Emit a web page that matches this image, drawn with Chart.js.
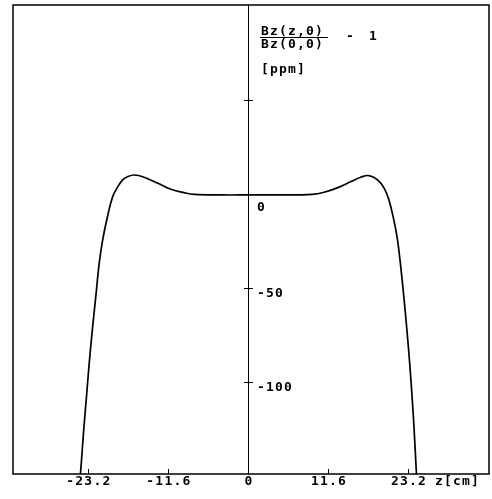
<!DOCTYPE html>
<html lang="en">
<head>
<meta charset="UTF-8">
<title>Bz(z,0)/Bz(0,0) - 1</title>
<style>
  body { margin: 0; background: #fff; }
  #fieldChart { display: block; }
</style>
</head>
<body>
<canvas id="fieldChart" width="492" height="499"></canvas>
<script src="https://cdn.jsdelivr.net/npm/chart.js"></script>
<script>
// z position [cm] and field deviation [ppm]
const zValues = [-24.5, -24.3, -23.95, -23.55, -23.15, -22.7, -22.2, -21.7, -21.2, -20.5,
                 -19.75, -19.0, -18.3, -17.6, -16.6, -15.2, -13.2, -11.3, -9.4, -7.9,
                 -4, 0, 4, 9.2, 10.9, 12.9, 14.8, 16.2, 17.4, 18.65,
                 19.6, 20.3, 21.0, 21.5, 21.95, 22.45, 22.9, 23.3, 23.65, 23.95, 24.2, 24.35];
const fieldPpm = [-152, -142.6, -125, -107.3, -89.4, -71.8, -54.1, -36.3, -23.9, -11.5,
                  -0.9, 4.4, 8, 9.7, 10.6, 9.4, 6.2, 3.0, 1.2, 0.3,
                  0, 0, 0, 0.3, 1.4, 3.9, 7.1, 9.4, 10.3, 8,
                  3.6, -2.7, -13.3, -23, -36.3, -54.1, -71.8, -89.4, -107.3, -125, -142.6, -152];

const zTicks = [-23.2, -11.6, 0, 11.6, 23.2];
const zTickLabels = ['-23.2', '-11.6', '0', '11.6', '23.2'];
const ppmTicks = [50, 0, -50, -100];
const ppmTickLabels = ['', '0', '-50', '-100'];

const FONT = 'bold 13px "DejaVu Sans Mono", monospace';
const tickFont = { family: '"DejaVu Sans Mono", monospace', size: 13, weight: 'bold' };

// frame, labels next to the centre axis, and the axis titles
const plotterText = {
    id: 'plotterText',
    beforeDraw(chart) {
        chart.ctx.letterSpacing = '1.2px';
    },
    afterDraw(chart) {
        const { ctx, chartArea: a, scales: { x, y } } = chart;
        const x0 = x.getPixelForValue(0);
        ctx.save();
        ctx.strokeStyle = '#000';
        ctx.lineWidth = 1.5;
        ctx.strokeRect(a.left, a.top, a.right - a.left, a.bottom - a.top);

        ctx.font = FONT;
        ctx.fillStyle = '#000';
        ctx.textBaseline = 'middle';
        ctx.textAlign = 'left';
        ppmTicks.forEach((v, i) => {
            const off = v === 0 ? 13 : 5;
            ctx.fillText(ppmTickLabels[i], x0 + 8, y.getPixelForValue(v) + off);
        });

        ctx.fillText('Bz(z,0)', x0 + 12, a.top + 27);
        ctx.fillText('Bz(0,0)', x0 + 12, a.top + 40);
        ctx.fillText('-', x0 + 97, a.top + 32);
        ctx.fillText('1', x0 + 120, a.top + 32);
        ctx.fillText('[ppm]', x0 + 12, a.top + 65);
        ctx.lineWidth = 1;
        ctx.beginPath();
        ctx.moveTo(x0 + 11, a.top + 32.5);
        ctx.lineTo(x0 + 79, a.top + 32.5);
        ctx.stroke();

        ctx.fillText('z[cm]', 435, a.bottom + 8);
        ctx.restore();
    }
};

const centreAxis = (tickLength, showBorder) => ({
    type: 'linear',
    position: { x: 0 },
    min: -148.4,
    max: 101,
    afterBuildTicks: s => { s.ticks = ppmTicks.map(v => ({ value: v })); },
    ticks: { display: false },
    border: { display: showBorder, color: '#000', width: 1 },
    grid: { drawOnChartArea: false, drawTicks: true, tickLength: tickLength, color: '#000', lineWidth: 1 }
});

new Chart(document.getElementById('fieldChart'), {
    type: 'line',
    data: {
        datasets: [{
            data: zValues.map((z, i) => ({ x: z, y: fieldPpm[i] })),
            borderColor: '#000',
            borderWidth: 1.7,
            pointRadius: 0,
            tension: 0.4,
            fill: false
        }]
    },
    options: {
        responsive: false,
        animation: false,
        layout: { padding: { left: 13, right: 3, top: 5, bottom: 0 } },
        plugins: { legend: { display: false }, tooltip: { enabled: false } },
        scales: {
            x: {
                type: 'linear',
                position: 'bottom',
                min: -34.2,
                max: 34.8,
                afterBuildTicks: s => { s.ticks = zTicks.map(v => ({ value: v })); },
                afterFit: s => { s.height = 25; },
                ticks: {
                    color: '#000',
                    font: tickFont,
                    padding: 5,
                    maxRotation: 0,
                    callback: (v, i) => zTickLabels[i]
                },
                border: { display: false },
                grid: { drawOnChartArea: false, drawTicks: true, tickLength: -5, color: '#000', lineWidth: 1 }
            },
            y: centreAxis(4, true),
            yRight: centreAxis(-4, false)
        }
    },
    plugins: [plotterText]
});
</script>
</body>
</html>
